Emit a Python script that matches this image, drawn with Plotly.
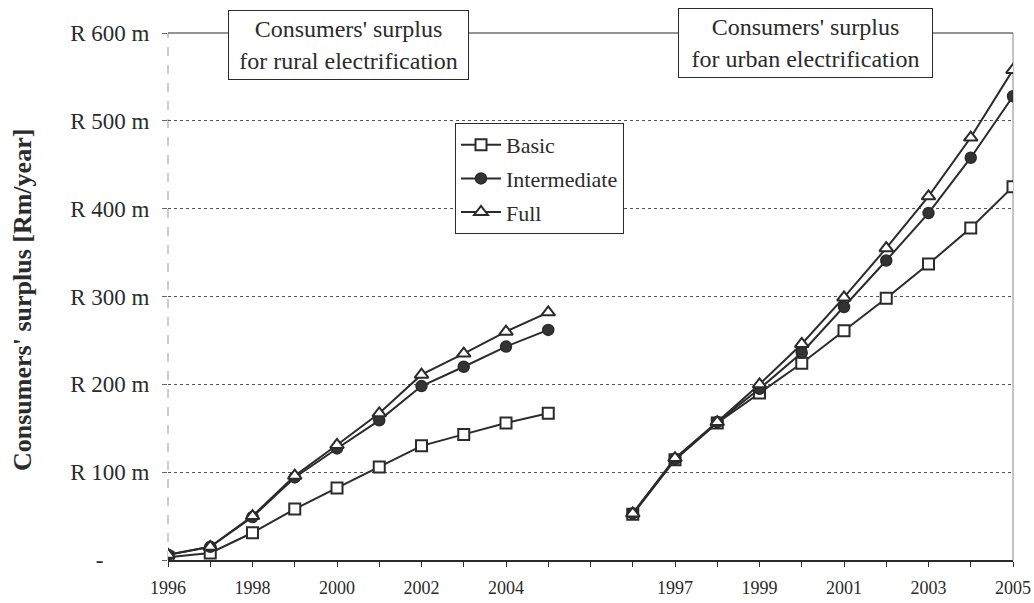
import plotly.graph_objects as go

# ---- data ----
years = ["1996", "1997", "1998", "1999", "2000", "2001", "2002", "2003", "2004", "2005"]
rural_basic = [3, 8, 31, 58, 82, 106, 130, 143, 156, 167]
rural_inter = [6, 15, 49, 94, 127, 159, 198, 220, 243, 262]
rural_full = [6, 15, 50, 96, 131, 167, 211, 235, 260, 282]
urban_basic = [52, 114, 156, 190, 224, 261, 298, 337, 378, 425]
urban_inter = [53, 115, 157, 195, 236, 288, 341, 395, 458, 528]
urban_full = [53, 116, 157, 200, 246, 299, 355, 414, 481, 558]
# category labels along the axis (rural block, gap, urban block)
cat_labels = years + [""] + years
shown_labels = {0: "1996", 2: "1998", 4: "2000", 6: "2002", 8: "2004",
                12: "1997", 14: "1999", 16: "2001", 18: "2003", 20: "2005"}
y_ticks = [0, 100, 200, 300, 400, 500, 600]
y_tick_text = ["-" + "\u00a0" * 8, "R 100 m", "R 200 m", "R 300 m", "R 400 m", "R 500 m", "R 600 m"]

FONT = "Liberation Serif, Times New Roman, serif"
INK = "#2b2b2b"

xs = list(range(len(cat_labels)))

def series(rural, urban):
    return rural + [None] + urban

fig = go.Figure()
specs = [
    ("Basic", series(rural_basic, urban_basic), dict(symbol="square", size=11, color="white", line=dict(color=INK, width=2))),
    ("Intermediate", series(rural_inter, urban_inter), dict(symbol="circle", size=11, color="#333333", line=dict(color=INK, width=1.5))),
    ("Full", series(rural_full, urban_full), dict(symbol="triangle-up", size=12, color="white", line=dict(color=INK, width=2))),
]
for name, ys, mk in specs:
    fig.add_trace(go.Scatter(
        x=xs, y=ys, name=name, mode="lines+markers",
        line=dict(color=INK, width=2), marker=mk,
        connectgaps=False, legendgroup=name,
    ))

tickvals = xs
ticktext = [shown_labels.get(i, "") for i in xs]

L, R, T, B = 168, 1034 - 1013, 33, 603 - 560
pw, ph = 1034 - L - R, 603 - T - B

def px(xp):
    return (xp - L) / pw

def py(yp):
    return (603 - B - yp) / ph

fig.update_layout(
    width=1034, height=603,
    margin=dict(l=L, r=R, t=T, b=B, pad=0, autoexpand=False),
    paper_bgcolor="white", plot_bgcolor="white",
    font=dict(family=FONT, color=INK),
    showlegend=True,
    legend=dict(
        x=px(455), y=py(123), xanchor="left", yanchor="top",
        bgcolor="white", bordercolor=INK, borderwidth=1,
        font=dict(family=FONT, size=22, color=INK),
        tracegroupgap=2, itemwidth=40,
    ),
    xaxis=dict(
        range=[0, len(cat_labels) - 1], tickmode="array",
        tickvals=tickvals, ticktext=ticktext,
        ticks="outside", ticklen=5, tickcolor=INK, tickwidth=1,
        showgrid=False, zeroline=False, automargin=False,
        showline=True, linecolor=INK, linewidth=1.5,
        tickfont=dict(family=FONT, size=18, color=INK),
        ticklabelstandoff=6,
    ),
    yaxis=dict(
        range=[0, 600], tickmode="array", tickvals=y_ticks, ticktext=y_tick_text,
        ticks="outside", ticklen=5, tickcolor="#666", tickwidth=1,
        showgrid=True, gridcolor="#555", griddash="dot", gridwidth=1,
        zeroline=False, showline=False, automargin=False,
        tickfont=dict(family=FONT, size=23, color=INK),
        ticklabelstandoff=8,
    ),
)

# plot-area borders
fig.add_shape(type="line", xref="paper", yref="paper", x0=0, x1=1, y0=1, y1=1,
              line=dict(color=INK, width=1.2), layer="above")
fig.add_shape(type="line", xref="paper", yref="paper", x0=1, x1=1, y0=0, y1=1,
              line=dict(color="#888", width=1), layer="below")
fig.add_shape(type="line", xref="paper", yref="paper", x0=0, x1=0, y0=0, y1=1,
              line=dict(color="#999", width=1, dash="dash"), layer="below")

# title boxes
fig.add_annotation(
    xref="paper", yref="paper", x=px((228 + 469) / 2), y=py(45),
    text="Consumers' surplus<br>for rural electrification", showarrow=False,
    font=dict(family=FONT, size=24, color=INK), align="center",
    bgcolor="white", bordercolor=INK, borderwidth=1, borderpad=2,
    width=235, height=64, xanchor="center", yanchor="middle",
)
fig.add_annotation(
    xref="paper", yref="paper", x=px((678 + 933) / 2), y=py(43),
    text="Consumers' surplus<br>for urban electrification", showarrow=False,
    font=dict(family=FONT, size=24, color=INK), align="center",
    bgcolor="white", bordercolor=INK, borderwidth=1, borderpad=2,
    width=249, height=64, xanchor="center", yanchor="middle",
)

# y-axis title
fig.add_annotation(
    xref="paper", yref="paper", x=px(22), y=py(300),
    text="<b>Consumers' surplus [Rm/year]</b>", showarrow=False, textangle=-90,
    font=dict(family=FONT, size=26, color=INK), xanchor="center", yanchor="middle",
)

fig.write_html("out.html")
